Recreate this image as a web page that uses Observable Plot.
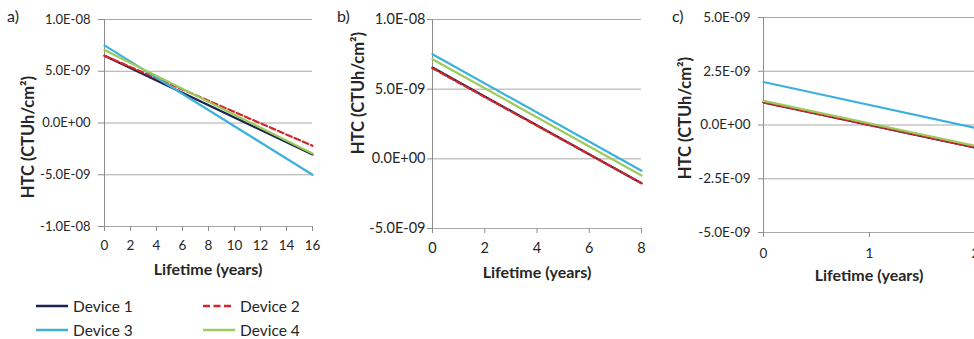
<!DOCTYPE html>
<html><head><meta charset="utf-8">
<script src="https://cdn.jsdelivr.net/npm/d3@7"></script>
<script src="https://cdn.jsdelivr.net/npm/@observablehq/plot@0.6"></script>
<style>
body{margin:0;background:#fff;}
#root{position:relative;width:974px;height:339px;overflow:hidden;font-family:Lato,"Open Sans",sans-serif;color:#262626;background:#fff;}
.panel{position:absolute;top:0;height:290px;overflow:hidden;}
.panel svg{position:absolute;left:0;top:0;}
.ttl{position:absolute;font-weight:bold;font-size:16px;white-space:nowrap;transform:translate(-50%,-50%);}
.ytl{transform:translate(-50%,-50%) rotate(-90deg);font-size:16.5px;}
.lbl{position:absolute;font-size:16px;transform:translateY(-50%);}
.leg{position:absolute;font-size:15.5px;line-height:16px;display:flex;align-items:center;transform:translateY(-50%);}
.leg svg{margin-right:5px;}
</style></head>
<body><div id="root"></div>
<script>
const devices = ["Device 1", "Device 2", "Device 3", "Device 4"];
const colors = ["#1b2550", "#d7262b", "#3cb1db", "#9cca5c"];
const dashes = [null, "6,3", null, null];

// Panel a
const yearsA = [0, 16];
const startA = [6.5e-9, 6.5e-9, 7.5e-9, 7.05e-9];
const endA = [-3.05e-9, -2.2e-9, -5.0e-9, -2.95e-9];
const xTicksA = [0, 2, 4, 6, 8, 10, 12, 14, 16];
const yTicksA = [-1e-8, -5e-9, 0, 5e-9, 1e-8];

// Panel b
const yearsB = [0, 8];
const startB = [6.55e-9, 6.5e-9, 7.5e-9, 7.15e-9];
const endB = [-1.75e-9, -1.75e-9, -0.85e-9, -1.2e-9];
const xTicksB = [0, 2, 4, 6, 8];
const yTicksB = [-5e-9, 0, 5e-9, 1e-8];

// Panel c
const yearsC = [0, 2];
const startC = [1.05e-9, 1.05e-9, 2.0e-9, 1.12e-9];
const endC = [-1.05e-9, -1.05e-9, -0.14e-9, -0.97e-9];
const xTicksC = [0, 1, 2];
const yTicksC = [-5e-9, -2.5e-9, 0, 2.5e-9, 5e-9];

const panelLabels = ["a)", "b)", "c)"];
const xTitle = "Lifetime (years)";
const yTitle = "HTC (CTUh/cm²)";

function excelExp(v) {
  if (v === 0) return "0.0E+00";
  const [m, e] = v.toExponential(1).split("e");
  const n = +e;
  return m + "E" + (n < 0 ? "-" : "+") + String(Math.abs(n)).padStart(2, "0");
}

const gridColor = "#a8a8a8";
const axisColor = "#8c8c8c";
const textColor = "#262626";

function makePanel(o) {
  const rows = [];
  devices.forEach((d, i) => {
    o.years.forEach((yr, j) => rows.push({device: d, year: yr, htc: j === 0 ? o.start[i] : o.end[i]}));
  });
  const lines = devices.map((d, i) => Plot.line(rows.filter(r => r.device === d), {
    x: "year", y: "htc", stroke: colors[i], strokeWidth: 2.2,
    strokeDasharray: dashes[i] || undefined
  }));
  const svg = Plot.plot({
    width: o.width, height: o.height,
    marginLeft: o.ml, marginRight: o.mr, marginTop: o.mt, marginBottom: o.mb,
    style: {fontFamily: "Lato, 'Open Sans', sans-serif", fontSize: o.fsy + "px", color: textColor, background: "transparent"},
    x: {domain: o.years},
    y: {domain: [o.yTicks[0], o.yTicks[o.yTicks.length - 1]]},
    marks: [
      Plot.gridY(o.yTicks, {stroke: gridColor, strokeOpacity: 1, strokeWidth: 1}),
      Plot.ruleX([o.years[0]], {stroke: axisColor, strokeWidth: 1}),
      Plot.axisY(o.yTicks, {tickFormat: excelExp, tickSize: o.yTick, tickPadding: o.yPad, stroke: axisColor, fill: textColor, label: null, fontSize: o.fsy}),
      Plot.axisX(o.xTicks, {tickSize: 5, tickPadding: o.xPad, stroke: axisColor, fill: textColor, label: null, fontSize: o.fsx}),
      ...lines
    ]
  });
  svg.style.maxWidth = "none";
  return svg;
}

const root = document.getElementById("root");
function addPanel(left, width, svg) {
  const div = document.createElement("div");
  div.className = "panel";
  div.style.left = left + "px";
  div.style.width = width + "px";
  div.appendChild(svg);
  root.appendChild(div);
}
function addText(cls, text, x, y, extra) {
  const d = document.createElement("div");
  d.className = cls;
  d.textContent = text;
  d.style.left = x + "px";
  d.style.top = y + "px";
  if (extra) Object.assign(d.style, extra);
  root.appendChild(d);
}

addPanel(0, 330, makePanel({years: yearsA, start: startA, end: endA, xTicks: xTicksA, yTicks: yTicksA,
  width: 330, height: 290, ml: 104, mr: 18, mt: 19, mb: 64, yTick: 6, yPad: 8, xPad: 9, fsy: 13, fsx: 13.5}));
addPanel(330, 315, makePanel({years: yearsB, start: startB, end: endB, xTicks: xTicksB, yTicks: yTicksB,
  width: 340, height: 290, ml: 102, mr: 29, mt: 19, mb: 62, yTick: 5, yPad: 2, xPad: 9, fsy: 14.5, fsx: 14.5}));
addPanel(645, 329, makePanel({years: yearsC, start: startC, end: endC, xTicks: xTicksC, yTicks: yTicksC,
  width: 350, height: 290, ml: 118, mr: 20, mt: 17, mb: 58, yTick: 5, yPad: 8, xPad: 11, fsy: 13.5, fsx: 13.5}));

addText("lbl", panelLabels[0], 7, 15);
addText("lbl", panelLabels[1], 337, 15);
addText("lbl", panelLabels[2], 672, 15);

addText("ttl", xTitle, 208, 268);
addText("ttl", xTitle, 537, 271);
addText("ttl", xTitle, 869, 274);
addText("ttl ytl", yTitle, 28, 137);
addText("ttl ytl", yTitle, 358, 93);
addText("ttl ytl", yTitle, 685, 118);

// Legend
const legPos = [[36, 306], [203, 306], [36, 330], [203, 330]];
devices.forEach((d, i) => {
  const div = document.createElement("div");
  div.className = "leg";
  div.style.left = legPos[i][0] + "px";
  div.style.top = legPos[i][1] + "px";
  const ns = "http://www.w3.org/2000/svg";
  const s = document.createElementNS(ns, "svg");
  s.setAttribute("width", i === 1 ? 28 : 32);
  s.setAttribute("height", 6);
  const l = document.createElementNS(ns, "line");
  l.setAttribute("x1", 0); l.setAttribute("x2", i === 1 ? 28 : 32);
  l.setAttribute("y1", 3); l.setAttribute("y2", 3);
  l.setAttribute("stroke", colors[i]);
  l.setAttribute("stroke-width", 2.5);
  if (dashes[i]) l.setAttribute("stroke-dasharray", "7,3.5");
  s.appendChild(l);
  div.appendChild(s);
  const t = document.createElement("span");
  t.textContent = d;
  if (i === 1) t.style.marginLeft = "4px";
  div.appendChild(t);
  root.appendChild(div);
});
</script></body></html>
